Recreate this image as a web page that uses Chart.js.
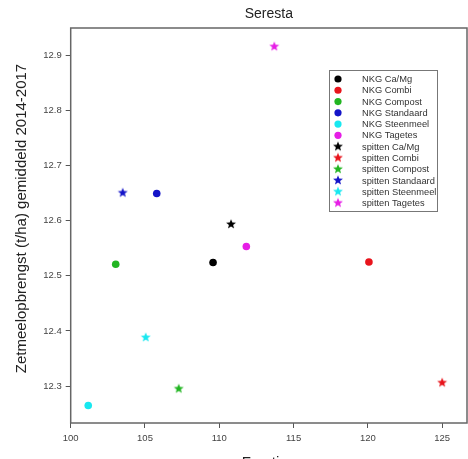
<!DOCTYPE html>
<html>
<head>
<meta charset="utf-8">
<script src="https://cdn.jsdelivr.net/npm/chart.js@4/dist/chart.umd.min.js"></script>
<style>
  body { margin: 0; background: #fff; }
</style>
</head>
<body>
<canvas id="chart" width="468" height="459"></canvas>
<script>
// behandelingen en gemiddelde waarden
var labels = ["NKG Ca/Mg", "NKG Combi", "NKG Compost", "NKG Standaard", "NKG Steenmeel", "NKG Tagetes",
    "spitten Ca/Mg", "spitten Combi", "spitten Compost", "spitten Standaard", "spitten Steenmeel", "spitten Tagetes"];
var fractie = [109.58, 120.07, 103.03, 105.79, 101.18, 111.82, 110.79, 125.0, 107.27, 103.50, 105.05, 113.70];
var opbrengst = [12.524, 12.525, 12.521, 12.649, 12.265, 12.553, 12.594, 12.307, 12.296, 12.651, 12.389, 12.916];
var xTicks = [100, 105, 110, 115, 120, 125];
var yTicks = [12.3, 12.4, 12.5, 12.6, 12.7, 12.8, 12.9];

var kleuren = ["#000000", "#e8141c", "#22b522", "#1414c8", "#18e8f0", "#e61ee6"];
var font = "'Liberation Sans', Arial, sans-serif";

function maakSter(kleur) {
    var c = document.createElement("canvas");
    c.width = 12;
    c.height = 12;
    var ctx = c.getContext("2d");
    ctx.fillStyle = kleur;
    ctx.beginPath();
    for (var i = 0; i < 10; i++) {
        var r = i % 2 == 0 ? 5.2 : 2.2;
        var a = -Math.PI / 2 + i * Math.PI / 5;
        var px = 6 + r * Math.cos(a);
        var py = 6.4 + r * Math.sin(a);
        if (i == 0) ctx.moveTo(px, py); else ctx.lineTo(px, py);
    }
    ctx.closePath();
    ctx.fill();
    return c;
}

var datasets = labels.map((label, i) => {
    var kleur = kleuren[i % 6];
    var ster = i >= 6;
    return {
        label: label,
        data: [{ x: fractie[i], y: opbrengst[i] }],
        backgroundColor: kleur,
        borderColor: kleur,
        borderWidth: 0,
        pointStyle: ster ? maakSter(kleur) : "circle",
        pointRadius: 3.8,
        pointHoverRadius: 3.8,
    };
});

// kader rond het plotgebied
var kader = {
    id: "kader",
    beforeDatasetsDraw(chart) {
        var a = chart.chartArea;
        var ctx = chart.ctx;
        ctx.save();
        ctx.strokeStyle = "#666";
        ctx.lineWidth = 1.5;
        ctx.strokeRect(a.left, a.top, a.right - a.left, a.bottom - a.top);
        ctx.restore();
    }
};

// legenda binnen het plotgebied + y-as titel
var legenda = {
    id: "legenda",
    afterDraw(chart) {
        var ctx = chart.ctx;
        ctx.save();
        ctx.fillStyle = "#fff";
        ctx.fillRect(329, 70, 108, 141);
        ctx.strokeStyle = "#777";
        ctx.lineWidth = 1;
        ctx.strokeRect(329.5, 70.5, 108, 141);
        ctx.font = "9.3px " + font;
        ctx.textBaseline = "middle";
        chart.data.datasets.forEach((ds, i) => {
            var y = 79 + i * 11.27;
            if (typeof ds.pointStyle === "string") {
                ctx.fillStyle = ds.backgroundColor;
                ctx.beginPath();
                ctx.arc(338, y, 3.6, 0, Math.PI * 2);
                ctx.fill();
            } else {
                ctx.drawImage(ds.pointStyle, 332, y - 6.4);
            }
            ctx.fillStyle = "#333";
            ctx.fillText(ds.label, 362, y + 0.5);
        });

        ctx.translate(22, 218.5);
        ctx.rotate(-Math.PI / 2);
        ctx.font = "15px " + font;
        ctx.fillStyle = "#222";
        ctx.textAlign = "center";
        ctx.fillText("Zetmeelopbrengst (t/ha) gemiddeld 2014-2017", 0, 0);
        ctx.restore();
    }
};

new Chart(document.getElementById("chart"), {
    type: "scatter",
    data: { datasets: datasets },
    options: {
        responsive: false,
        animation: false,
        layout: { autoPadding: false, padding: { left: 0, right: 1, top: 0, bottom: 0 } },
        plugins: {
            legend: { display: false },
            tooltip: { enabled: false },
            title: {
                display: true,
                fullSize: false,
                text: "Seresta",
                color: "#222",
                font: { family: font, size: 14, weight: "normal" },
                padding: { top: 5.5, bottom: 5.7 },
            },
        },
        scales: {
            x: {
                type: "linear",
                min: 100,
                max: 126.67,
                afterFit: (scale) => {
                    scale.height = 36;
                    scale.paddingLeft = 0;
                    scale.paddingRight = 0;
                },
                afterBuildTicks: (scale) => { scale.ticks = xTicks.map((v) => ({ value: v })); },
                grid: { drawOnChartArea: false, drawTicks: true, tickLength: 5, color: "#555", lineWidth: 1 },
                border: { display: false },
                ticks: {
                    color: "#444",
                    padding: 5,
                    font: { family: font, size: 9.5 },
                    maxRotation: 0,
                    callback: (v) => v,
                },
                title: {
                    display: true,
                    text: "Fraction",
                    color: "#222",
                    font: { family: font, size: 15 },
                    padding: { top: 0, bottom: -13 },
                },
            },
            y: {
                type: "linear",
                min: 12.2333,
                max: 12.949,
                afterFit: (scale) => { scale.width = 70.7; },
                afterBuildTicks: (scale) => { scale.ticks = yTicks.map((v) => ({ value: v })); },
                grid: { drawOnChartArea: false, drawTicks: true, tickLength: 5, color: "#555", lineWidth: 1 },
                border: { display: false },
                ticks: {
                    color: "#444",
                    padding: 4,
                    font: { family: font, size: 9.5 },
                    callback: (v) => v.toFixed(1),
                },
            },
        },
    },
    plugins: [kader, legenda],
});
</script>
</body>
</html>
